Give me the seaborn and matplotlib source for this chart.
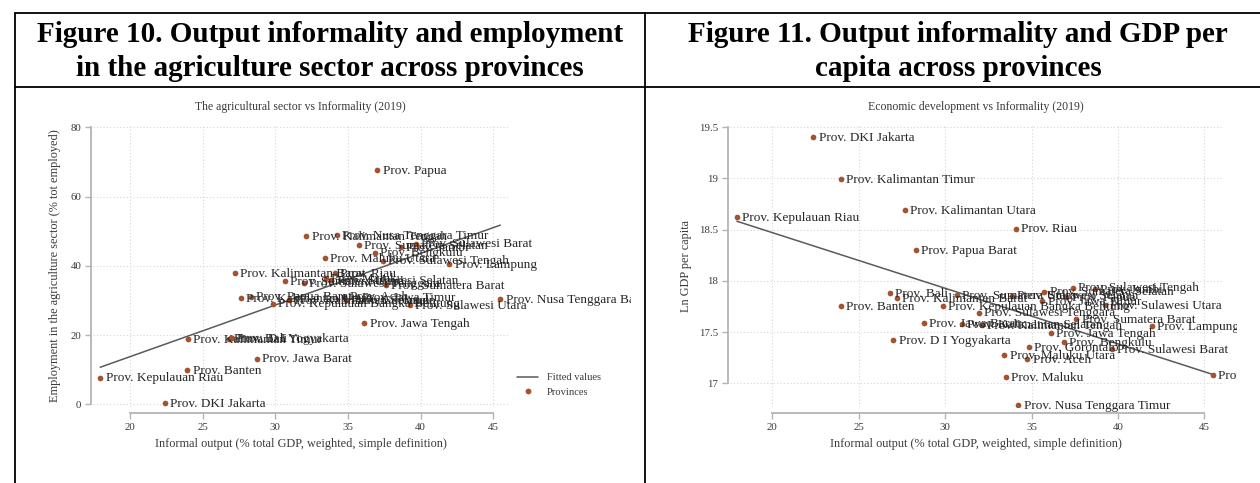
import matplotlib
matplotlib.use("Agg")
import matplotlib.pyplot as plt
import matplotlib.transforms as mtransforms
from matplotlib.lines import Line2D
import numpy as np
import pandas as pd
import seaborn as sns

# Province-level data, 2019
provinces = [
    "Prov. Kepulauan Riau", "Prov. DKI Jakarta", "Prov. Kalimantan Timur", "Prov. Banten",
    "Prov. Bali", "Prov. D I Yogyakarta", "Prov. Kalimantan Barat", "Prov. Kalimantan Utara",
    "Prov. Papua Barat", "Prov. Jawa Barat", "Prov. Kepulauan Bangka Belitung",
    "Prov. Sumatera Utara", "Prov. Kalimantan Selatan", "Prov. Sulawesi Tenggara",
    "Prov. Kalimantan Tengah", "Prov. Maluku Utara", "Prov. Maluku", "Prov. Sulawesi Selatan",
    "Prov. Riau", "Prov. Nusa Tenggara Timur", "Prov. Aceh", "Prov. Gorontalo",
    "Prov. Jawa Timur", "Prov. Sumatera Selatan", "Prov. Jawa Tengah", "Prov. Bengkulu",
    "Prov. Papua", "Prov. Sulawesi Tengah", "Prov. Sumatera Barat", "Prov. Jambi",
    "Prov. Sulawesi Utara", "Prov. Sulawesi Barat", "Prov. Lampung", "Prov. Nusa Tenggara Barat",
]
informal_output = [
    17.95, 22.38, 23.97, 23.95, 26.78, 27.00, 27.22, 27.65, 28.30, 28.75, 29.85,
    30.66, 30.95, 31.96, 32.13, 33.42, 33.50, 33.86, 34.10, 34.23, 34.75, 34.86,
    35.62, 35.74, 36.12, 36.86, 37.02, 37.40, 37.60, 38.66, 39.25, 39.65, 41.97, 45.48,
]
agri_employment = [
    7.7, 0.4, 18.8, 9.8, 19.0, 19.2, 38.0, 30.7, 31.1, 13.2, 29.1,
    35.6, 30.2, 35.0, 48.7, 42.2, 36.5, 35.9, 37.8, 48.8, 31.1, 30.0,
    31.0, 46.0, 23.4, 43.8, 67.7, 41.5, 34.5, 45.5, 28.7, 46.4, 40.5, 30.4,
]
ln_gdp_pc = [
    18.627, 19.405, 18.99, 17.758, 17.879, 17.42, 17.833, 18.69, 18.30, 17.586, 17.755,
    17.865, 17.576, 17.69, 17.566, 17.273, 17.06, 17.856, 18.51, 16.79, 17.24, 17.35,
    17.806, 17.895, 17.49, 17.406, 17.846, 17.934, 17.628, 17.918, 17.765, 17.335, 17.563, 17.08,
]

x_ticks = [20, 25, 30, 35, 40, 45]
agri_ticks = [0, 20, 40, 60, 80]
gdp_ticks = [17, 17.5, 18, 18.5, 19, 19.5]
gdp_tick_labels = ["17", "17.5", "18", "18.5", "19", "19.5"]

header_left = ["Figure 10. Output informality and employment",
               "in the agriculture sector across provinces"]
header_right = ["Figure 11. Output informality and GDP per",
                "capita across provinces"]

df = pd.DataFrame({
    "province": provinces,
    "informal": informal_output,
    "agri": agri_employment,
    "lngdp": ln_gdp_pc,
})

sns.set_theme(style="white")
plt.rcParams["font.family"] = ["Liberation Serif", "DejaVu Serif"]

W, H = 1260, 483
fig = plt.figure(figsize=(W / 100, H / 100), dpi=100)
fig.patch.set_facecolor("white")


def fx(px):
    return px / W


def fy(py):
    return 1 - py / H


def axes_px(x0, y0, x1, y1):
    return fig.add_axes([fx(x0), fy(y1), fx(x1) - fx(x0), fy(y0) - fy(y1)])


DOT = "#a4532e"
FIT = "#5a5a5a"
AXC = "#b4b4b4"
TXT = "#3a3a3a"
LBL = "#262626"

# ---- table frame and headers ----
frame_kw = dict(color="black", linewidth=1.3, transform=fig.transFigure)
fig.add_artist(Line2D([fx(15), 1.0], [fy(13), fy(13)], **frame_kw))
fig.add_artist(Line2D([fx(15), 1.0], [fy(87), fy(87)], **frame_kw))
fig.add_artist(Line2D([fx(15), fx(15)], [fy(13), 0], **frame_kw))
fig.add_artist(Line2D([fx(645), fx(645)], [fy(13), 0], **frame_kw))

for cx, lines in ((330, header_left), (958, header_right)):
    for base, line in zip((42, 76), lines):
        fig.text(fx(cx), fy(base), line, ha="center", va="baseline", fontsize=21,
                 fontweight="bold", color="black")


def style_axes(ax, yticks, yticklabels, ylo, yhi):
    ax.set_facecolor("white")
    for s in ("top", "right"):
        ax.spines[s].set_visible(False)
    for s in ("left", "bottom"):
        ax.spines[s].set_color(AXC)
        ax.spines[s].set_linewidth(1.3)
    ax.spines["bottom"].set_position(("outward", 4.5))
    ax.spines["left"].set_position(("outward", 1.5))
    ax.spines["bottom"].set_bounds(20, 45)
    ax.spines["left"].set_bounds(ylo, yhi)
    ax.set_xticks(x_ticks)
    ax.set_xticklabels([str(t) for t in x_ticks])
    ax.set_yticks(yticks)
    ax.set_yticklabels(yticklabels)
    ax.tick_params(axis="both", direction="out", length=4, width=1, color=AXC,
                   labelsize=7.8, labelcolor=TXT, pad=3, left=True, bottom=True)
    ax.grid(True, linestyle=(0, (1, 2)), color="#d6d6d6", linewidth=0.8)
    ax.set_axisbelow(True)


def label_points(ax, xs, ys, names, right_edge_px):
    off = mtransforms.ScaledTranslation(3.8 / 72, -0.6 / 72, fig.dpi_scale_trans)
    clip = mtransforms.TransformedBbox(
        mtransforms.Bbox.from_extents(0, 0, fx(right_edge_px), 1), fig.transFigure)
    for x, y, n in zip(xs, ys, names):
        t = ax.text(x, y, n, transform=ax.transData + off, fontsize=9.5, color=LBL,
                    ha="left", va="center", zorder=4)
        t.set_clip_box(clip)
        t.set_clip_on(True)


# ---- left panel: agriculture employment vs informality ----
axL = axes_px(93, 125, 508, 407)
sns.regplot(data=df, x="informal", y="agri", scatter=False, ci=None, truncate=True,
            color=FIT, line_kws={"linewidth": 1.1, "zorder": 2}, ax=axL)
sns.scatterplot(data=df, x="informal", y="agri", color=DOT, s=17, linewidth=0,
                zorder=3, ax=axL)
axL.set_xlim(17.45, 46.01)
axL.set_ylim(-0.78, 80.66)
style_axes(axL, agri_ticks, [str(t) for t in agri_ticks], 0, 80)
label_points(axL, df["informal"], df["agri"], df["province"], 631)

axL.set_xlabel("Informal output (% total GDP, weighted, simple definition)",
               fontsize=8.8, color=TXT)
axL.xaxis.set_label_coords(0.5, (407 - 444) / 282)
axL.xaxis.label.set_va("center")
axL.set_ylabel("Employment in the agriculture sector (% tot employed)",
               fontsize=8.8, color=TXT)
axL.yaxis.set_label_coords((55 - 93) / 415, (407 - 266) / 282)
axL.yaxis.label.set_va("center")
axL.text(0.5, (407 - 107) / 282, "The agricultural sector vs Informality (2019)",
         transform=axL.transAxes, ha="center", va="center", fontsize=8.5, color=TXT)

handles = [Line2D([], [], color=FIT, linewidth=1.1),
           Line2D([], [], color=DOT, marker="o", linestyle="", markersize=4.2,
                  markeredgewidth=0)]
axL.legend(handles, ["Fitted values", "Provinces"], loc="upper left",
           bbox_to_anchor=(fx(517), fy(373)), bbox_transform=fig.transFigure,
           frameon=False, fontsize=7.6, handlelength=2.0, handletextpad=0.8,
           labelspacing=0.45, borderpad=0, borderaxespad=0, labelcolor=TXT)

# ---- right panel: ln GDP per capita vs informality ----
axR = axes_px(730, 125, 1222, 407)
sns.regplot(data=df, x="informal", y="lngdp", scatter=False, ci=None, truncate=True,
            color=FIT, line_kws={"linewidth": 1.1, "zorder": 2}, ax=axR)
sns.scatterplot(data=df, x="informal", y="lngdp", color=DOT, s=17, linewidth=0,
                zorder=3, ax=axR)
axR.set_xlim(17.55, 46.02)
axR.set_ylim(16.769, 19.522)
style_axes(axR, gdp_ticks, gdp_tick_labels, 17, 19.5)
label_points(axR, df["informal"], df["lngdp"], df["province"], 1237)

axR.set_xlabel("Informal output (% total GDP, weighted, simple definition)",
               fontsize=8.8, color=TXT)
axR.xaxis.set_label_coords(0.5, (407 - 444) / 282)
axR.xaxis.label.set_va("center")
axR.set_ylabel("Ln GDP per capita", fontsize=8.8, color=TXT)
axR.yaxis.set_label_coords((686 - 730) / 492, (407 - 266) / 282)
axR.yaxis.label.set_va("center")
axR.text(0.5, (407 - 107) / 282, "Economic development vs Informality (2019)",
         transform=axR.transAxes, ha="center", va="center", fontsize=8.5, color=TXT)

fig.savefig("out.png", dpi=100, facecolor="white")
